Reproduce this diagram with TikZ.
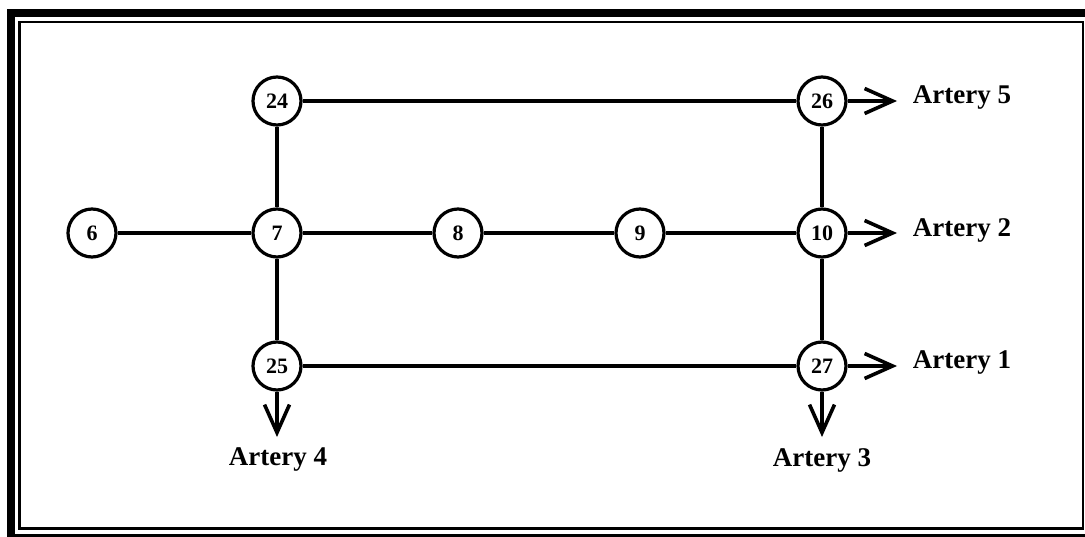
\documentclass[tikz,border=0pt]{standalone}
\usepackage{fontspec}
\setmainfont{Liberation Serif}
\usetikzlibrary{
	arrows.meta,
	positioning,
}

\begin{document}
\begin{tikzpicture}[x=1pt, y=-1pt, line width=3.2pt,
	junction/.style={circle, draw, fill=white, minimum size=48pt, inner sep=0pt, font=\fontsize{22}{22}\selectfont\bfseries},
	artery/.style={font=\fontsize{27}{27}\selectfont\bfseries},
	outflow/.style={-{Straight Barb[length=28pt, width=25pt, line width=3.6pt]}}]
	\useasboundingbox (0,0) rectangle (1085,537);
	\draw[line width=8pt] (11,13) rectangle (1089,538);
	\draw[line width=2.8pt] (19.5,22) rectangle (1083,528.5);
	\node[junction] (n24) at (277,101) {24};
	\node[junction] (n26) at (822,101) {26};
	\node[junction] (n6) at (92,233) {6};
	\node[junction] (n7) at (277,233) {7};
	\node[junction] (n8) at (458,233) {8};
	\node[junction] (n9) at (640,233) {9};
	\node[junction] (n10) at (822,233) {10};
	\node[junction] (n25) at (277,366) {25};
	\node[junction] (n27) at (822,366) {27};
	\coordinate (e5) at (897,101);
	\coordinate (e2) at (897,233);
	\coordinate (e1) at (897,366);
	\coordinate (e4) at (277,437);
	\coordinate (e3) at (822,437);
	\draw (n24) -- (n26);
	\draw (n24) -- (n7);
	\draw (n6) -- (n7);
	\draw (n7) -- (n8);
	\draw (n8) -- (n9);
	\draw (n9) -- (n10);
	\draw (n26) -- (n10);
	\draw (n7) -- (n25);
	\draw (n10) -- (n27);
	\draw (n25) -- (n27);
	\draw[outflow] (n26) -- (e5);
	\draw[outflow] (n10) -- (e2);
	\draw[outflow] (n27) -- (e1);
	\draw[outflow] (n25) -- (e4);
	\draw[outflow] (n27) -- (e3);
	\node[artery, anchor=west] (a5) at (908,98) {Artery 5};
	\node[artery, anchor=west] (a2) at (908,230) {Artery 2};
	\node[artery, anchor=west] (a1) at (908,363) {Artery 1};
	\node[artery] (a4) at (278,460) {Artery 4};
	\node[artery] (a3) at (822,460) {Artery 3};
\end{tikzpicture}
\end{document}
